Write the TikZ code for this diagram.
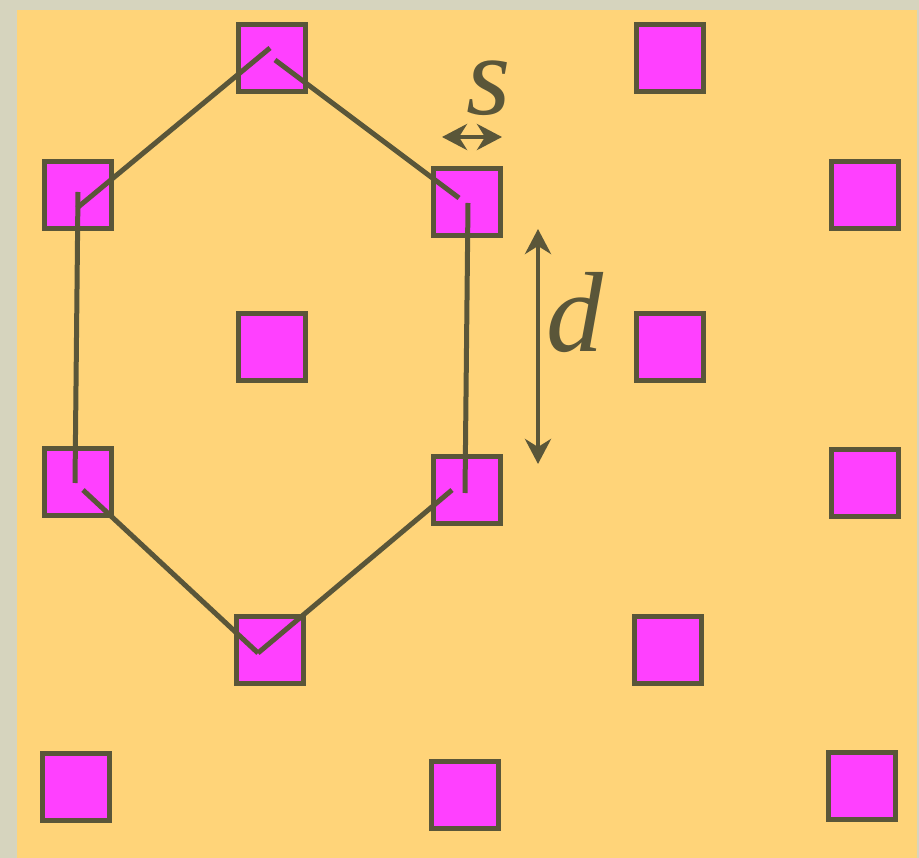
\documentclass[tikz,border=0pt]{standalone}
\usepackage{fontspec}
\setmainfont{Liberation Serif}
\usetikzlibrary{arrows.meta}
\definecolor{paper}{RGB}{214,212,190}
\definecolor{panel}{RGB}{255,212,121}
\definecolor{ink}{RGB}{90,86,57}
\definecolor{mag}{RGB}{255,64,255}
\begin{document}
\begin{tikzpicture}[x=1pt,y=-1pt,
  sq/.style={draw=ink,fill=mag,line width=5.5pt,minimum size=67pt,inner sep=0pt,outer sep=0pt},
  edge/.style={draw=ink,line width=5pt},
  dim/.style={draw=ink,line width=4.5pt,{Stealth[length=25pt,width=26pt,inset=8pt]}-{Stealth[length=25pt,width=26pt,inset=8pt]}},
  lbl/.style={text=ink,inner sep=0pt,font=\fontsize{114}{114}\selectfont\itshape}]
\fill[paper] (0,0) rectangle (919,858);
\fill[panel] (17,10) rectangle (917,858);
\useasboundingbox (0,0) rectangle (919,858);
% squares
\node[sq] (q1) at (272,58) {};
\node[sq] (q2) at (670,58) {};
\node[sq] (q3) at (78,195) {};
\node[sq] (q4) at (467,202) {};
\node[sq] (q5) at (865,195) {};
\node[sq] (q6) at (272,347) {};
\node[sq] (q7) at (670,347) {};
\node[sq] (q8) at (78,482) {};
\node[sq] (q9) at (467,490) {};
\node[sq] (q10) at (865,483) {};
\node[sq] (q11) at (270,650) {};
\node[sq] (q12) at (668,650) {};
\node[sq] (q13) at (76,787) {};
\node[sq] (q14) at (465,795) {};
\node[sq] (q15) at (862,786) {};
% hexagon segment ends
\coordinate (a1) at (77,208);  \coordinate (a2) at (270,48);
\coordinate (b1) at (275,60);  \coordinate (b2) at (459,198);
\coordinate (c1) at (468,203); \coordinate (c2) at (465,493);
\coordinate (d1) at (452,490); \coordinate (d2) at (258,653);
\coordinate (e1) at (83,490);
\coordinate (f1) at (78,192);  \coordinate (f2) at (75,483);
\draw[edge] (a1) -- (a2);
\draw[edge] (b1) -- (b2);
\draw[edge] (c1) -- (c2);
\draw[edge] (d1) -- (d2);
\draw[edge] (e1) -- (d2);
\draw[edge] (f1) -- (f2);
% dimensions
\coordinate (s1) at (442,137); \coordinate (s2) at (502,137);
\draw[dim] (s1) -- (s2);
\node[lbl,anchor=base west] (s) at (466,115) {s};
\coordinate (t1) at (538,229); \coordinate (t2) at (538,464);
\draw[dim] (t1) -- (t2);
\node[lbl,anchor=base west] (d) at (546,352) {d};
\end{tikzpicture}
\end{document}
